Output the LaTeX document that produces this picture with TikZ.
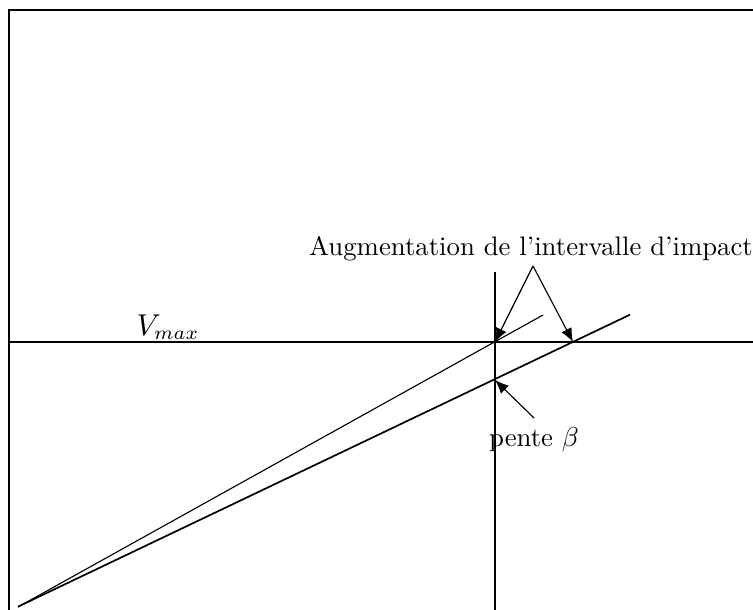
\documentclass[tikz,border=0pt]{standalone}
\usetikzlibrary{arrows.meta}
\begin{document}
\begin{tikzpicture}[x=0.4pt,y=-0.4pt,
  ln/.style={line width=0.45pt},
  arr/.style={line width=0.45pt,-{Latex[length=5.5pt,width=4.5pt]}},
  lbl/.style={inner sep=0pt,font=\fontsize{10.7}{13}\selectfont}]
\useasboundingbox (0,0) rectangle (753,610);
% frame
\coordinate (tl) at (9,10);
\coordinate (tr) at (760,10);
\coordinate (bl) at (9,620);
\draw[ln] (bl) -- (tl) -- (tr);
% axes
\coordinate (h0) at (9,342);
\coordinate (h1) at (760,342);
\draw[ln] (h0) -- (h1);
\coordinate (v0) at (495,272);
\coordinate (v1) at (495,620);
\draw[ln] (v0) -- (v1);
% slopes
\coordinate (o) at (18,607);
\coordinate (e1) at (543,315);
\coordinate (e2) at (630,315);
\draw[ln] (o) -- (e1);
\draw[ln] (o) -- (e2);
\draw[ln] ([yshift=0.25pt]o) -- ([yshift=0.25pt]e2);
% intersection points
\coordinate (p1) at (495,342);
\coordinate (p2) at (573,342);
\coordinate (p3) at (495,380);
% labels
\node[lbl] (aug) at (531,249) {Augmentation de l'intervalle d'impact};
\coordinate (apex) at (533,266);
\draw[arr] (apex) -- (p1);
\draw[arr] (apex) -- (p2);
\node[lbl] (pente) at (534,440) {pente $\beta$};
\coordinate (ps) at (534,418);
\draw[arr] (ps) -- (p3);
\node[lbl,scale=1.1] (vmax) at (168,327) {$V_{max}$};
\end{tikzpicture}
\end{document}
